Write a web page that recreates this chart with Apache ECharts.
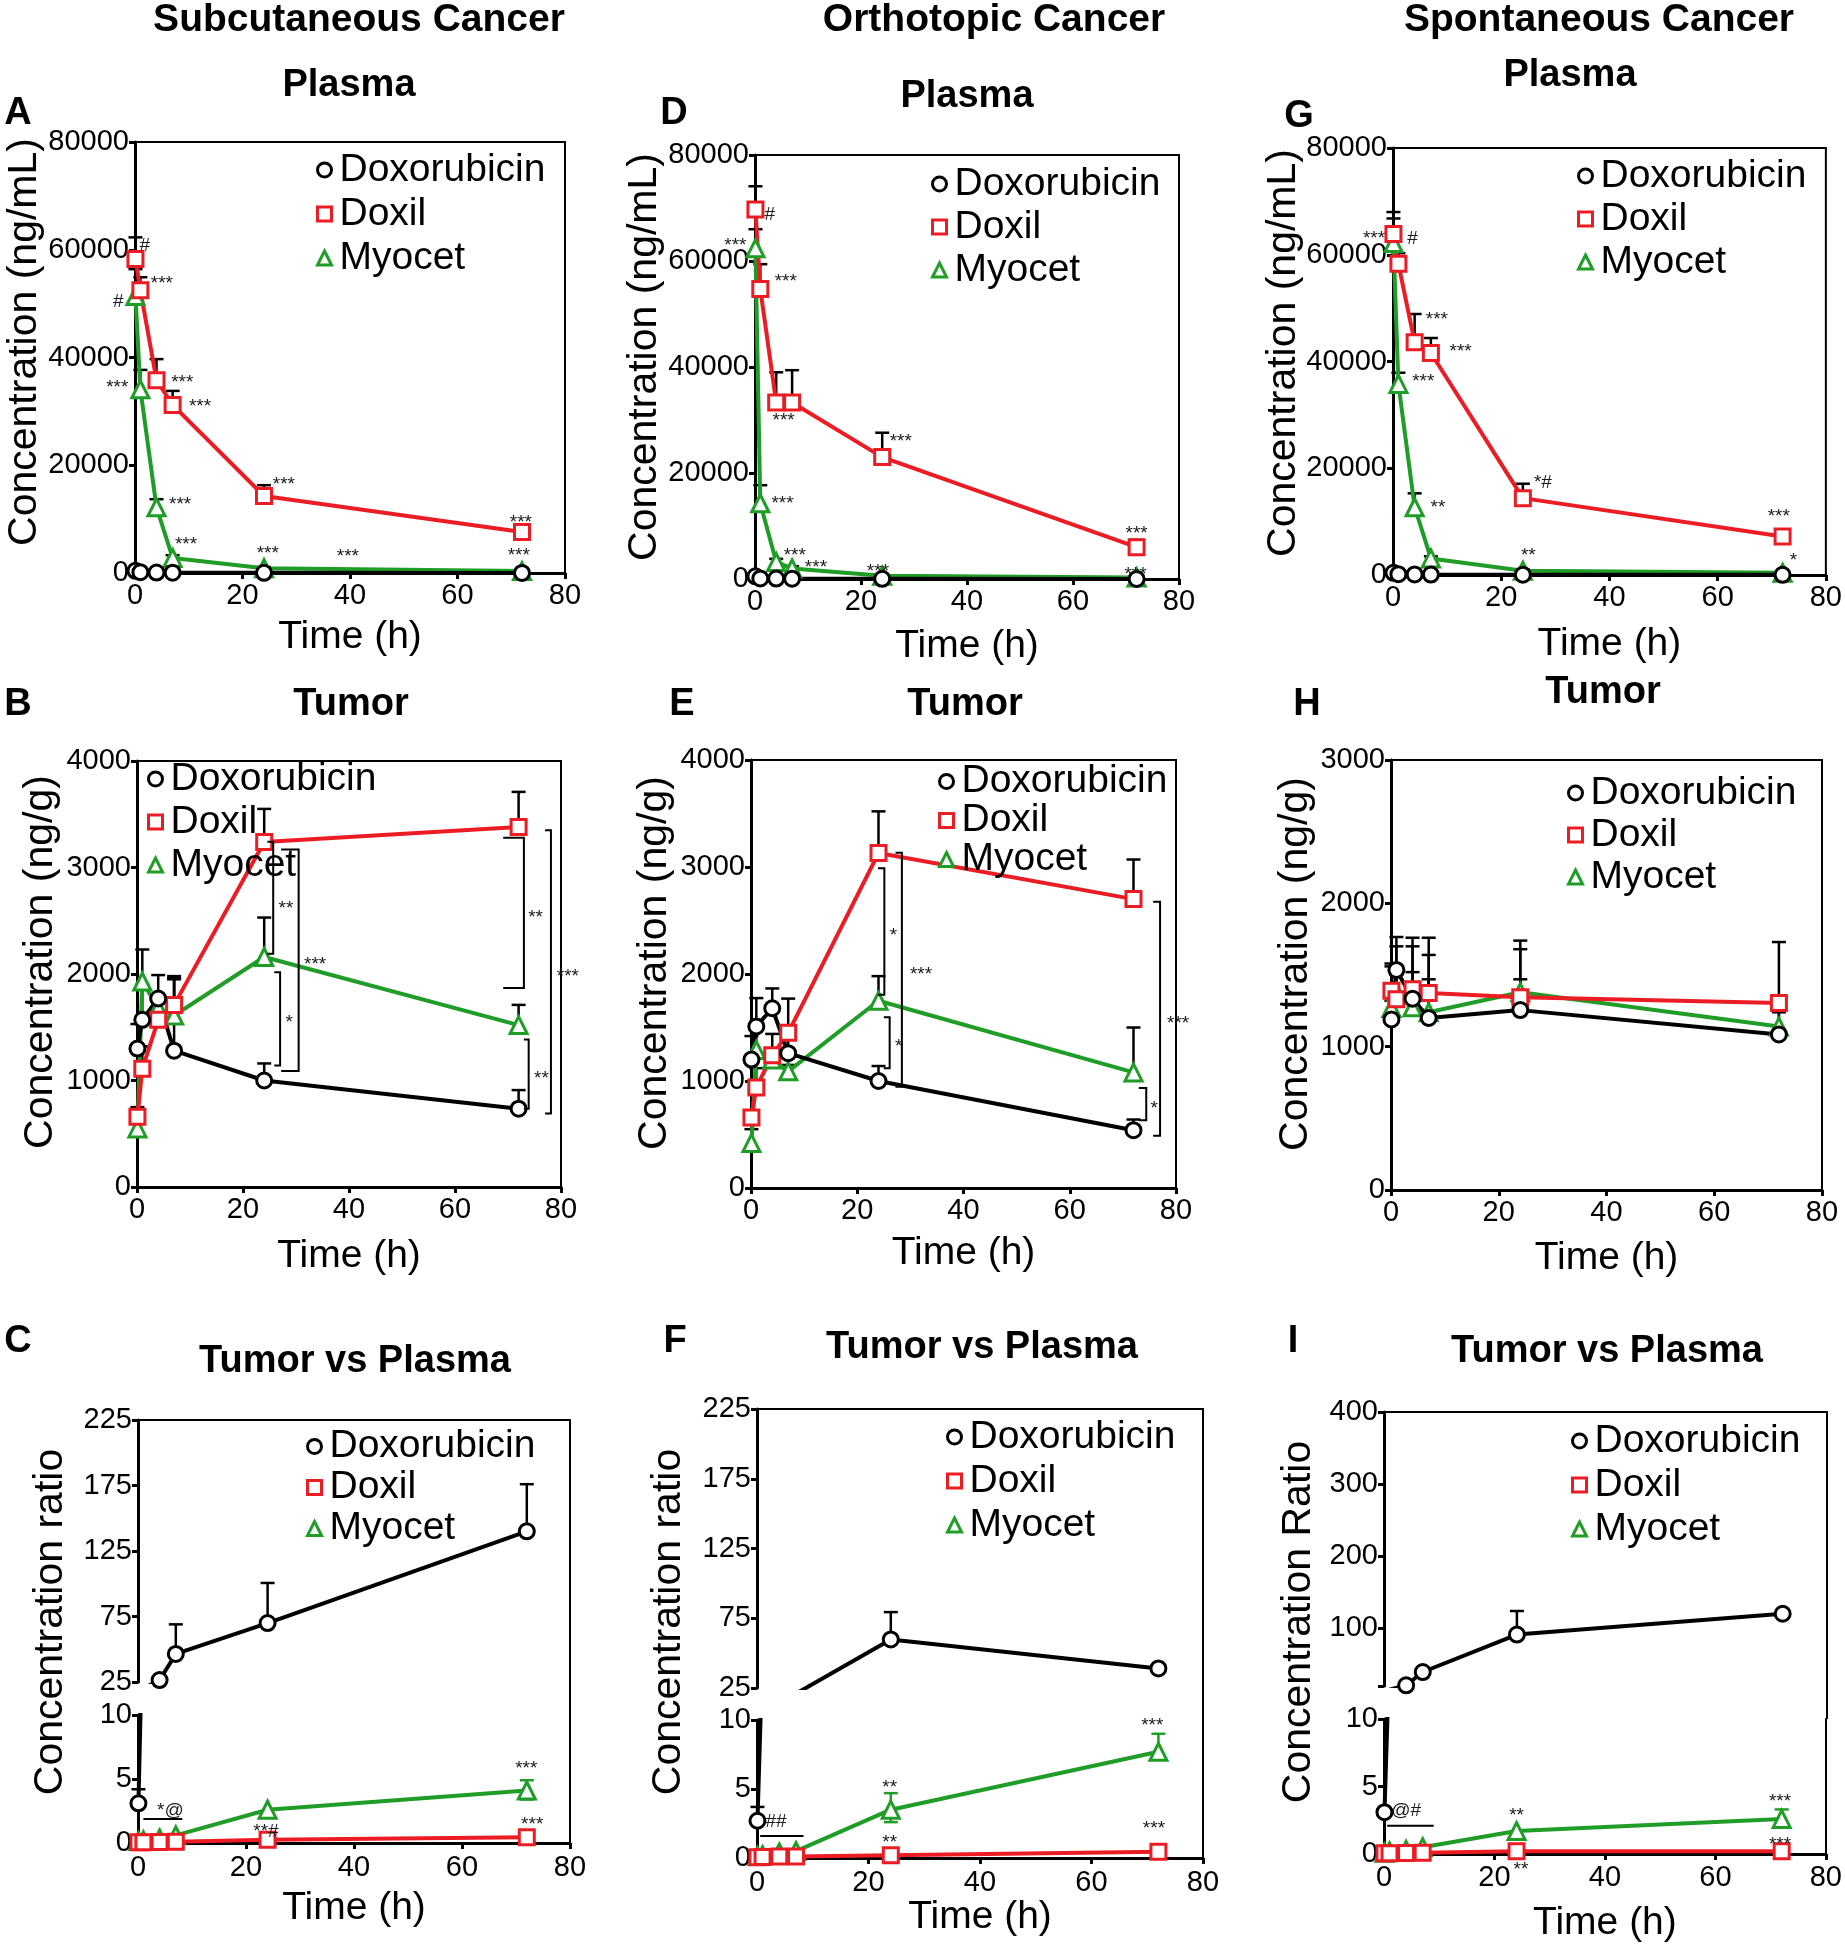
<!DOCTYPE html>
<html><head><meta charset="utf-8">
<script src="https://cdn.jsdelivr.net/npm/echarts@6/dist/echarts.min.js"></script>
<style>html,body{margin:0;padding:0;background:#fff}#c{width:1845px;height:1950px}</style>
</head><body><div id="c"></div>
<script>
// ---------------- DATA ----------------
const TIME = [0.083, 1, 4, 7, 24, 72];
const NAMES = ['Doxorubicin', 'Doxil', 'Myocet'];

// A: Subcutaneous, plasma (ng/mL)
const A_DOX = [400, 150, 80, 60, 40, 20];
const A_DOXIL = [58300, 52500, 35800, 31200, 14300, 7600];
const A_MYO = [51400, 34100, 12200, 2800, 900, 350];
const A_DOXIL_ERR = [62300, 54900, 39700, 33800, 16300, 8300];
const A_MYO_ERR = [56400, 37700, 13700, 3300, 1100, 450];
const A_NOTES = [[1.8, 60700, '#'], [5.0, 54500, '***'], [-3.1, 50300, '#'], [-3.3, 35100, '***'], [8.8, 36100, '***'], [12.1, 31600, '***'], [27.7, 17200, '***'], [8.4, 13400, '***'], [9.5, 5900, '***'], [24.7, 4400, '***'], [39.6, 3700, '***'], [71.8, 10100, '***'], [71.4, 3900, '***']];

// D: Orthotopic, plasma (ng/mL)
const D_DOX = [500, 100, 80, 60, 40, 20];
const D_DOXIL = [69700, 54700, 33300, 33300, 23000, 6000];
const D_MYO = [62400, 14300, 3200, 2000, 600, 300];
const D_DOXIL_ERR = [74100, 59400, 39000, 39400, 27600, 7400];
const D_MYO_ERR = [66000, 17700, 3800, 2400, 800, 400];
const D_NOTES = [[2.8, 68800, '#'], [-3.7, 63600, '***'], [5.8, 56900, '***'], [5.4, 30700, '***'], [27.5, 26600, '***'], [5.2, 14900, '***'], [7.5, 5200, '***'], [11.5, 2900, '***'], [23.2, 2100, '***'], [72, 9300, '***'], [71.8, 1600, '***']];

// G: Spontaneous, plasma (ng/mL)
const G_DOX = [400, 150, 100, 80, 50, 30];
const G_DOXIL = [63900, 58300, 43600, 41600, 14400, 7200];
const G_MYO = [62200, 35800, 12700, 3100, 800, 400];
const G_DOXIL_ERR = [68000, 60300, 48900, 44400, 17100, 7800];
const G_MYO_ERR = [66800, 37900, 15300, 3500, 1000, 500];
const G_NOTES = [[-3.5, 63700, '***'], [3.6, 63000, '#'], [8.1, 48600, '***'], [12.5, 42600, '***'], [5.6, 36900, '***'], [8.3, 13400, '**'], [27.7, 18100, '*#'], [25, 4300, '**'], [71.3, 11600, '***'], [74, 3500, '*']];

// B: Subcutaneous, tumor (ng/g)
const B_DOX = [1300, 1570, 1770, 1280, 1000, 735];
const B_DOXIL = [660, 1110, 1570, 1710, 3240, 3380];
const B_MYO = [550, 1930, 1680, 1610, 2160, 1520];
const B_DOX_ERR = [1530, 1900, 1990, 1960, 1160, 910];
const B_DOXIL_ERR = [750, 1320, 1600, 1980, 3550, 3710];
const B_MYO_ERR = [600, 2230, 1750, 1950, 2530, 1710];
const B_BRACKETS = [[24.6, 25.7, 3242, 2190], [27.2, 30.5, 3170, 1090], [25.9, 27.0, 2017, 1141], [69.1, 73.0, 3280, 1868], [73.0, 73.9, 1386, 735], [77.0, 78.1, 3349, 689]];
const B_NOTES = [[28.1, 2650, '**'], [33.6, 2120, '***'], [28.7, 1580, '*'], [75.2, 2565, '**'], [76.3, 1053, '**'], [81.3, 2010, '***']];

// E: Orthotopic, tumor (ng/g)
const E_DOX = [1200, 1510, 1680, 1260, 1000, 540];
const E_DOXIL = [660, 940, 1240, 1450, 3130, 2700];
const E_MYO = [420, 1290, 1200, 1090, 1750, 1080];
const E_DOX_ERR = [1420, 1775, 1865, 1440, 1140, 640];
const E_DOXIL_ERR = [720, 1120, 1440, 1770, 3520, 3070];
const E_MYO_ERR = [550, 1540, 1300, 1150, 1980, 1500];
const E_BRACKETS = [[23.9, 25.1, 2989, 1805], [27.2, 28.4, 3134, 947], [25.0, 26.1, 1595, 1118], [73.0, 74.4, 935, 634], [75.7, 77.0, 2676, 489]];
const E_NOTES = [[26.8, 2397, '*'], [32.0, 2027, '***'], [27.8, 1355, '*'], [75.9, 782, '*'], [80.4, 1576, '***']];

// H: Spontaneous, tumor (ng/g)
const H_DOX = [1190, 1535, 1335, 1200, 1255, 1085];
const H_DOXIL = [1390, 1330, 1400, 1375, 1345, 1305];
const H_MYO = [1270, 1380, 1275, 1240, 1380, 1140];
const H_DOX_ERR = [1580, 1765, 1520, 1470, 1470, 1730];
const H_DOXIL_ERR = [1560, 1700, 1760, 1760, 1740, 1320];
const H_MYO_ERR = [1320, 1500, 1700, 1640, 1680, 1240];

// C: Subcutaneous, tumor vs plasma ratio
const C_DOX = [3.1, 20, 26.5, 46.4, 70, 140];
const C_DOXIL = [0.05, 0.06, 0.08, 0.1, 0.25, 0.45];
const C_MYO = [0.15, 0.2, 0.35, 0.6, 2.6, 4.1];
const C_DOX_ERR = [4.2, null, null, 69, 100.6, 176];
const C_MYO_ERR_HI = [null, null, null, null, null, 4.9];
const C_MYO_ERR_LO = [null, null, null, null, null, 3.4];
const C_NOTES = [[6.0, 2.86, '*@'], [23.7, 1.17, '**#'], [71.9, 6.1, '***'], [73.0, 1.7, '***']];
const C_LINES = [[1.0, 8.2, 1.88]];

// F: Orthotopic, tumor vs plasma ratio
const F_DOX = [2.7, 15, 18, 21, 59.8, 39];
const F_DOXIL = [0.05, 0.07, 0.1, 0.1, 0.2, 0.45];
const F_MYO = [0.15, 0.2, 0.4, 0.5, 3.5, 7.7];
const F_DOX_ERR = [3.7, null, null, null, 79.4, null];
const F_MYO_ERR_HI = [null, null, null, null, 4.7, 9.0];
const F_MYO_ERR_LO = [null, null, null, null, 2.6, 7.4];
const F_NOTES = [[3.4, 2.6, '##'], [23.8, 5.4, '**'], [23.8, 1.36, '**'], [70.9, 9.85, '***'], [71.2, 2.4, '***']];
const F_LINES = [[0.57, 8.35, 1.6]];

// I: Spontaneous, tumor vs plasma ratio
const I_DOX = [3.1, 15, 21, 39.4, 91.3, 120.2];
const I_DOXIL = [0.05, 0.06, 0.08, 0.1, 0.2, 0.2];
const I_MYO = [0.1, 0.2, 0.3, 0.5, 1.7, 2.6];
const I_DOX_ERR = [null, null, null, null, 124, null];
const I_MYO_ERR_HI = [null, null, null, null, null, 3.3];
const I_MYO_ERR_LO = [null, null, null, null, null, 2.0];
const I_NOTES = [[4.0, 3.2, '@#'], [24.0, 3.1, '**'], [24.8, -0.9, '**'], [71.7, 4.2, '***'], [71.7, 1.0, '***']];
const I_LINES = [[0.57, 9.0, 2.1]];

// axis tick values
const X_RANGE = [0, 80, 20];
const PLASMA_RANGE = [0, 80000, 20000];
const TUMOR_RANGE = [0, 4000, 1000];
const TUMOR_H_RANGE = [0, 3000, 1000];
const RATIO_UP_RANGE = [25, 225, 50];
const RATIO_LOW_RANGE = [0, 10, 5];
const RATIO_I_UP = [20, 400];
const RATIO_I_UP_LABELS = [100, 200, 300, 400];
const RATIO_I_UP_TICKS = [20, 100, 200, 300, 400];

// ---------------- STYLE / LAYOUT ----------------
const RED = '#ec1c24', GREEN = '#1f9d27', BLACK = '#000000';
const FONT = '"Liberation Sans", Arial, Helvetica, sans-serif';

const grids = [], xAxes = [], yAxes = [], series = [], legends = [], graphics = [];
const frameY = [];

function pairs(vals) { return TIME.map((t, i) => [t, vals[i]]); }

function addGrid(g, border) {
  grids.push({left: g[0], top: g[1], width: g[2], height: g[3], show: border, borderColor: '#000', borderWidth: 2, backgroundColor: 'rgba(0,0,0,0)'});
  return grids.length - 1;
}

function mainX(gi, top, nameGap, margin) {
  xAxes[gi] = {type: 'value', gridIndex: gi, min: X_RANGE[0], max: X_RANGE[1], interval: X_RANGE[2],
    position: top ? 'top' : 'bottom',
    axisLine: {show: true, onZero: false, lineStyle: {color: '#000', width: top ? 2 : 3}},
    axisTick: {show: !top, length: 6, lineStyle: {color: '#000', width: 3}},
    axisLabel: {show: !top, fontSize: 29, color: '#000', margin: margin || 8, fontFamily: FONT},
    splitLine: {show: false},
    name: top ? '' : 'Time (h)', nameLocation: 'middle', nameGap: nameGap || 45,
    nameTextStyle: {fontSize: 39, color: '#000', fontFamily: FONT}};
}

function mainY(gi, o) {
  const ax = {type: 'value', gridIndex: gi, min: o.range[0], max: o.range[1], position: 'left',
    axisLine: {show: true, onZero: false, lineStyle: {color: '#000', width: 3}},
    axisTick: {show: true, length: 6, inside: false, lineStyle: {color: '#000', width: 3}},
    axisLabel: {fontSize: 29, color: '#000', margin: 6, fontFamily: FONT, formatter: v => String(v)},
    splitLine: {show: false}};
  if (o.range[2]) ax.interval = o.range[2];
  if (o.labels) { ax.axisLabel.customValues = o.labels; ax.axisTick.customValues = o.ticks; }
  yAxes[gi] = ax;
}

function addLines(gi, dox, doxil, myo) {
  const defs = [['Myocet', myo, GREEN, 'triangle', 17], ['Doxil', doxil, RED, 'rect', 15], ['Doxorubicin', dox, BLACK, 'circle', 15]];
  defs.forEach(([name, vals, color, sym, size]) => {
    if (!vals) return;
    series.push({type: 'line', name, xAxisIndex: gi, yAxisIndex: gi, data: pairs(vals),
      symbol: sym, symbolSize: size, showSymbol: true, showAllSymbol: true, clip: true,
      lineStyle: {color, width: 4}, itemStyle: {color: '#fff', borderColor: color, borderWidth: 3},
      z: 3, silent: true, emphasis: {disabled: true}});
  });
}

function addErrors(gi, mean, hi, lo, color) {
  const items = [];
  TIME.forEach((t, i) => { if (hi[i] != null) items.push([t, mean[i], hi[i], lo ? lo[i] : null]); });
  series.push({type: 'custom', xAxisIndex: gi, yAxisIndex: gi, z: 2, silent: true, clip: false,
    data: items.map(d => [d[0], d[1]]),
    renderItem: (params, api) => {
      const d = items[params.dataIndex];
      const top = api.coord([d[0], d[2]]);
      const base = api.coord([d[0], d[3] != null ? d[3] : d[1]]);
      const st = {stroke: color, lineWidth: 2.5};
      const ch = [
        {type: 'line', shape: {x1: top[0], y1: top[1], x2: top[0], y2: base[1]}, style: st},
        {type: 'line', shape: {x1: top[0] - 7, y1: top[1], x2: top[0] + 7, y2: top[1]}, style: st}];
      if (d[3] != null) ch.push({type: 'line', shape: {x1: base[0] - 7, y1: base[1], x2: base[0] + 7, y2: base[1]}, style: st});
      return {type: 'group', children: ch};
    }});
}

function addNotes(gi, notes) {
  series.push({type: 'custom', xAxisIndex: gi, yAxisIndex: gi, z: 6, silent: true, clip: false,
    data: notes.map(n => [n[0], n[1]]),
    renderItem: (params, api) => {
      const n = notes[params.dataIndex];
      const p = api.coord([n[0], n[1]]);
      const star = n[2].indexOf('*') >= 0;
      return {type: 'text', x: p[0], y: p[1] + (star ? 4 : 0),
        style: {text: n[2], fill: '#1a1a1a', font: '19px ' + FONT, textAlign: 'center', textVerticalAlign: 'middle', align: 'center', verticalAlign: 'middle'}};
    }});
}

function addBrackets(gi, list) {
  series.push({type: 'custom', xAxisIndex: gi, yAxisIndex: gi, z: 5, silent: true, clip: false,
    data: list.map(b => [b[1], b[2]]),
    renderItem: (params, api) => {
      const b = list[params.dataIndex];
      const a1 = api.coord([b[0], b[2]]), p1 = api.coord([b[1], b[2]]);
      const p2 = api.coord([b[1], b[3]]);
      return {type: 'polyline', shape: {points: [[a1[0], p1[1]], [p1[0], p1[1]], [p2[0], p2[1]], [a1[0], p2[1]]]},
        style: {stroke: '#000', fill: null, lineWidth: 2}};
    }});
}

function addHLines(gi, list) {
  series.push({type: 'custom', xAxisIndex: gi, yAxisIndex: gi, z: 5, silent: true, clip: false,
    data: list.map(l => [l[0], l[2]]),
    renderItem: (params, api) => {
      const l = list[params.dataIndex];
      const p1 = api.coord([l[0], l[2]]), p2 = api.coord([l[1], l[2]]);
      return {type: 'line', shape: {x1: p1[0], y1: p1[1], x2: p2[0], y2: p2[1]}, style: {stroke: '#000', lineWidth: 2}};
    }});
}

function addLegend(left, top, lh, gap) {
  legends.push({orient: 'vertical', left, top, itemGap: gap, itemWidth: 14, itemHeight: 14, padding: 0,
    selectedMode: false,
    textStyle: {fontSize: 39, color: '#000', fontFamily: FONT, lineHeight: lh, padding: [0, 0, 0, 3]},
    data: [
      {name: NAMES[0], icon: 'circle', itemStyle: {color: '#fff', borderColor: BLACK, borderWidth: 3}},
      {name: NAMES[1], icon: 'rect', itemStyle: {color: '#fff', borderColor: RED, borderWidth: 3}},
      {name: NAMES[2], icon: 'triangle', itemStyle: {color: '#fff', borderColor: GREEN, borderWidth: 3}}]});
}

function gText(x, y, text, size, bold, rot) {
  graphics.push({type: 'text', x, y, rotation: rot || 0, silent: true,
    style: {text, font: (bold ? 'bold ' : '') + size + 'px ' + FONT, fill: '#000',
      textAlign: 'center', textVerticalAlign: 'middle', align: 'center', verticalAlign: 'middle'}});
}

// ---------------- SINGLE PANELS ----------------
const SINGLE = [
  {g: [135, 142, 430, 431], range: PLASMA_RANGE, name: 'Concentration (ng/mL)', namePos: [25, 342], xGap: 45,
   dox: A_DOX, doxil: A_DOXIL, myo: A_MYO,
   errs: [[A_DOXIL, A_DOXIL_ERR], [A_MYO, A_MYO_ERR]], notes: A_NOTES, legend: [316, 150, 40, 4]},
  {g: [755, 155, 424, 424], range: PLASMA_RANGE, name: 'Concentration (ng/mL)', namePos: [645, 357], xGap: 48,
   dox: D_DOX, doxil: D_DOXIL, myo: D_MYO,
   errs: [[D_DOXIL, D_DOXIL_ERR], [D_MYO, D_MYO_ERR]], notes: D_NOTES, legend: [931, 164, 40, 3]},
  {g: [1393, 148, 433, 427], range: PLASMA_RANGE, name: 'Concentration (ng/mL)', namePos: [1284, 353], xGap: 50,
   dox: G_DOX, doxil: G_DOXIL, myo: G_MYO,
   errs: [[G_DOXIL, G_DOXIL_ERR], [G_MYO, G_MYO_ERR]], notes: G_NOTES, legend: [1577, 156, 40, 3]},
  {g: [137, 761, 424, 426], range: TUMOR_RANGE, name: 'Concentration (ng/g)', namePos: [41, 962], xGap: 50,
   dox: B_DOX, doxil: B_DOXIL, myo: B_MYO,
   errs: [[B_DOX, B_DOX_ERR], [B_DOXIL, B_DOXIL_ERR], [B_MYO, B_MYO_ERR]], notes: B_NOTES, brackets: B_BRACKETS, legend: [147, 759, 40, 3]},
  {g: [751, 760, 425, 428], range: TUMOR_RANGE, name: 'Concentration (ng/g)', namePos: [655, 963], xGap: 46,
   dox: E_DOX, doxil: E_DOXIL, myo: E_MYO,
   errs: [[E_DOX, E_DOX_ERR], [E_DOXIL, E_DOXIL_ERR], [E_MYO, E_MYO_ERR]], notes: E_NOTES, brackets: E_BRACKETS, legend: [938, 762, 34, 0]},
  {g: [1391, 760, 431, 430], range: TUMOR_H_RANGE, name: 'Concentration (ng/g)', namePos: [1296, 964], xGap: 49,
   dox: H_DOX, doxil: H_DOXIL, myo: H_MYO,
   errs: [[H_DOX, H_DOX_ERR], [H_DOXIL, H_DOXIL_ERR], [H_MYO, H_MYO_ERR]], notes: [], legend: [1567, 773, 40, 2]}
];

SINGLE.forEach(p => {
  const gi = addGrid(p.g, true);
  mainX(gi, false, p.xGap);
  mainY(gi, {range: p.range});
  p.errs.forEach(([m, e]) => addErrors(gi, m, e, null, BLACK));
  addLines(gi, p.dox, p.doxil, p.myo);
  if (p.brackets) addBrackets(gi, p.brackets);
  if (p.notes.length) addNotes(gi, p.notes);
  addLegend(...p.legend);
  gText(p.namePos[0], p.namePos[1], p.name, 41, false, Math.PI / 2);
});

// ---------------- BROKEN-AXIS PANELS ----------------
const BROKEN = [
  {up: [138, 1420, 432, 262], low: [138, 1715, 432, 128], upRange: RATIO_UP_RANGE, xGap: 46, xMargin: 10,
   dox: C_DOX, doxil: C_DOXIL, myo: C_MYO, doxErr: C_DOX_ERR, myoHi: C_MYO_ERR_HI, myoLo: C_MYO_ERR_LO,
   notes: C_NOTES, lines: C_LINES, legend: [306, 1427, 38, 2], yName: 'Concentration ratio', yNamePos: [51, 1622]},
  {up: [757, 1409, 446, 279], low: [757, 1720, 446, 138], upRange: RATIO_UP_RANGE, xGap: 38, xMargin: 10,
   dox: F_DOX, doxil: F_DOXIL, myo: F_MYO, doxErr: F_DOX_ERR, myoHi: F_MYO_ERR_HI, myoLo: F_MYO_ERR_LO,
   notes: F_NOTES, lines: F_LINES, legend: [946, 1417, 40, 4], yName: 'Concentration ratio', yNamePos: [669, 1622]},
  {up: [1384, 1412, 443, 274], low: [1384, 1719, 443, 135], upRange: [RATIO_I_UP[0], RATIO_I_UP[1]], upLabels: RATIO_I_UP_LABELS, upTicks: RATIO_I_UP_TICKS, xGap: 50, xMargin: 9,
   dox: I_DOX, doxil: I_DOXIL, myo: I_MYO, doxErr: I_DOX_ERR, myoHi: I_MYO_ERR_HI, myoLo: I_MYO_ERR_LO,
   notes: I_NOTES, lines: I_LINES, legend: [1571, 1421, 40, 4], yName: 'Concentration Ratio', yNamePos: [1299, 1622]}
];

BROKEN.forEach(p => {
  const gu = addGrid(p.up, false);
  mainX(gu, true);
  mainY(gu, {range: p.upRange, labels: p.upLabels, ticks: p.upTicks});
  const upErr = p.doxErr.map((v, i) => (v != null && p.dox[i] >= p.upRange[0]) ? v : null);
  addErrors(gu, p.dox, upErr, null, BLACK);
  addLines(gu, p.dox, null, null);
  frameY.push(gu);

  const gl = addGrid(p.low, false);
  mainX(gl, false, p.xGap, p.xMargin);
  mainY(gl, {range: RATIO_LOW_RANGE});
  const lowErr = p.doxErr.map((v, i) => (v != null && p.dox[i] < p.upRange[0]) ? v : null);
  addErrors(gl, p.dox, lowErr, null, BLACK);
  addErrors(gl, p.myo, p.myoHi, p.myoLo, GREEN);
  addLines(gl, p.dox, p.doxil, p.myo);
  addHLines(gl, p.lines);
  addNotes(gl, p.notes);
  frameY.push(gl);

  addLegend(...p.legend);
  const right = p.up[0] + p.up[2];
  graphics.push({type: 'line', silent: true, shape: {x1: right, y1: p.up[1] + p.up[3], x2: right, y2: p.low[1]}, style: {stroke: '#000', lineWidth: 2}});
  gText(p.yNamePos[0], p.yNamePos[1], p.yName, 41, false, Math.PI / 2);
});

// right frame axes for broken panels
frameY.forEach(gi => {
  yAxes.push({type: 'value', gridIndex: gi, position: 'right', min: 0, max: 1,
    axisLine: {show: true, onZero: false, lineStyle: {color: '#000', width: 2}},
    axisTick: {show: false}, axisLabel: {show: false}, splitLine: {show: false}});
});

// ---------------- TITLES ----------------
gText(359, 20, 'Subcutaneous Cancer', 39, true);
gText(994, 20, 'Orthotopic Cancer', 39, true);
gText(1599, 20, 'Spontaneous Cancer', 39, true);
gText(349, 86, 'Plasma', 38, true);
gText(967, 97, 'Plasma', 38, true);
gText(1570, 76, 'Plasma', 38, true);
gText(351, 705, 'Tumor', 38, true);
gText(965, 705, 'Tumor', 38, true);
gText(1603, 693, 'Tumor', 38, true);
gText(355, 1362, 'Tumor vs Plasma', 38, true);
gText(982, 1348, 'Tumor vs Plasma', 38, true);
gText(1607, 1352, 'Tumor vs Plasma', 38, true);
[['A', 18, 114], ['D', 674, 114], ['G', 1299, 117], ['B', 18, 705], ['E', 682, 705], ['H', 1307, 705],
 ['C', 18, 1342], ['F', 675, 1342], ['I', 1293, 1342]].forEach(([t, x, y]) => gText(x, y, t, 38, true));

const chart = echarts.init(document.getElementById('c'), null, {renderer: 'canvas'});
chart.setOption({
  animation: false,
  backgroundColor: '#ffffff',
  textStyle: {fontFamily: FONT},
  grid: grids, xAxis: xAxes, yAxis: yAxes, series, legend: legends, graphic: graphics
});
</script></body></html>
